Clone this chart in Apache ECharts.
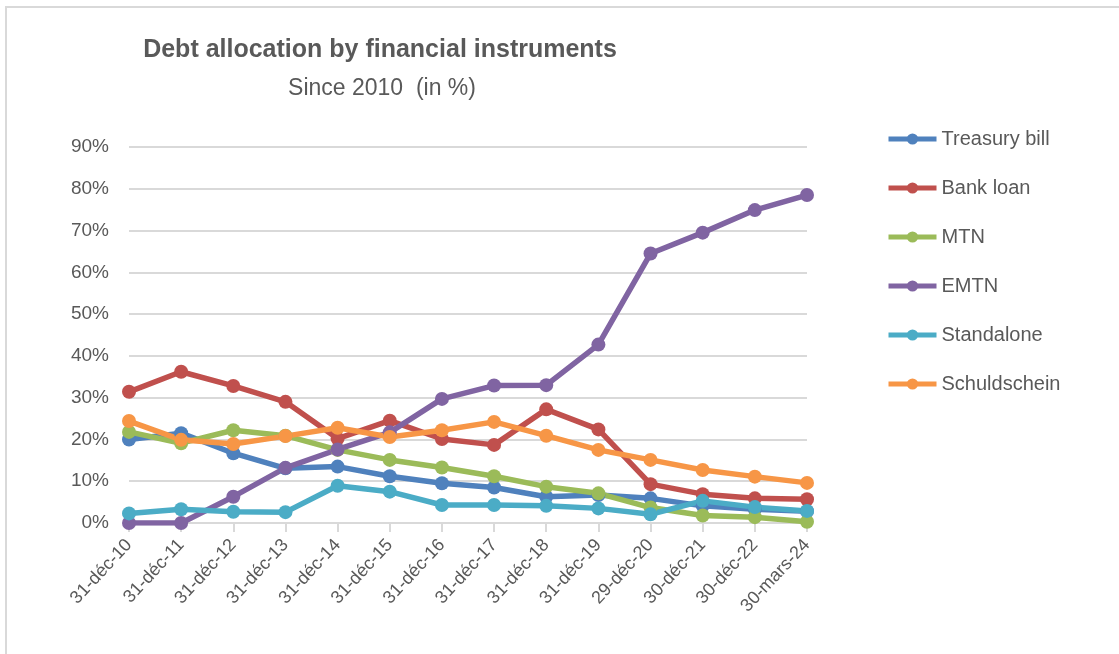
<!DOCTYPE html>
<html>
<head>
<meta charset="utf-8">
<script src="https://cdn.jsdelivr.net/npm/echarts@6/dist/echarts.min.js"></script>
<style>
  html, body { margin: 0; padding: 0; background: #ffffff; }
  #chart { width: 1119px; height: 654px; }
</style>
</head>
<body>
<div id="chart"></div>
<script>
// Reporting dates (category axis)
const dates = ['31-déc-10', '31-déc-11', '31-déc-12', '31-déc-13', '31-déc-14', '31-déc-15',
  '31-déc-16', '31-déc-17', '31-déc-18', '31-déc-19', '29-déc-20', '30-déc-21', '30-déc-22', '30-mars-24'];

// Share of total debt per instrument, in %
const treasuryBill = [20.0, 21.5, 16.7, 13.1, 13.5, 11.2, 9.5, 8.5, 6.3, 6.7, 5.9, 4.1, 3.3, 2.8];
const bankLoan     = [31.4, 36.2, 32.8, 29.0, 20.2, 24.5, 20.1, 18.7, 27.2, 22.4, 9.3, 6.9, 5.9, 5.7];
const mtn          = [21.8, 19.1, 22.2, 20.9, 17.5, 15.1, 13.3, 11.2, 8.7, 7.1, 3.7, 1.8, 1.4, 0.3];
const emtn         = [0.0, 0.0, 6.3, 13.2, 17.6, 21.7, 29.7, 32.9, 33.0, 42.7, 64.5, 69.5, 74.9, 78.5];
const standalone   = [2.3, 3.3, 2.7, 2.6, 8.9, 7.5, 4.3, 4.3, 4.1, 3.5, 2.1, 5.3, 3.8, 2.9];
const schuldschein = [24.4, 19.9, 18.9, 20.8, 22.8, 20.6, 22.2, 24.2, 20.9, 17.5, 15.1, 12.7, 11.1, 9.6];

// Value axis ticks
const yMin = 0, yMax = 90, yStep = 10;

const seriesDefs = [
  { name: 'Treasury bill', data: treasuryBill, color: '#4F81BD' },
  { name: 'Bank loan',     data: bankLoan,     color: '#C0504D' },
  { name: 'MTN',           data: mtn,          color: '#9BBB59' },
  { name: 'EMTN',          data: emtn,         color: '#8064A2' },
  { name: 'Standalone',    data: standalone,   color: '#4BACC6' },
  { name: 'Schuldschein',  data: schuldschein, color: '#F79646' }
];

const FONT = '"Liberation Sans", Arial, sans-serif';
const TEXT = '#595959';
const GRID = '#d9d9d9';

const chart = echarts.init(document.getElementById('chart'), null, { renderer: 'canvas' });

chart.setOption({
  backgroundColor: '#ffffff',
  animation: false,
  textStyle: { fontFamily: FONT, color: TEXT },
  graphic: [{
    type: 'rect',
    shape: { x: 6, y: 7, width: 1200, height: 700 },
    style: { fill: 'none', stroke: '#d9d9d9', lineWidth: 2 },
    silent: true
  }],
  title: [{
    text: 'Debt allocation by financial instruments',
    left: 375, top: 33, textAlign: 'center',
    textStyle: { fontFamily: FONT, fontSize: 25, fontWeight: 'bold', color: TEXT }
  }, {
    text: 'Since 2010  (in %)',
    left: 377, top: 72, textAlign: 'center',
    textStyle: { fontFamily: FONT, fontSize: 23, fontWeight: 'normal', color: TEXT }
  }],
  legend: {
    orient: 'vertical',
    left: 881, top: 124,
    itemWidth: 48, itemHeight: 14, itemGap: 29,
    lineStyle: { width: 5 },
    textStyle: { fontFamily: FONT, fontSize: 20, color: TEXT },
    data: seriesDefs.map(s => s.name)
  },
  grid: { left: 129, right: 312, top: 147, bottom: 131, containLabel: false },
  xAxis: {
    type: 'category',
    data: dates,
    boundaryGap: false,
    axisLine: { lineStyle: { color: GRID, width: 2 } },
    axisTick: { show: true, alignWithLabel: true, length: 9, lineStyle: { color: GRID, width: 2 } },
    axisLabel: { rotate: 47, interval: 0, fontSize: 18, color: TEXT, fontFamily: FONT, margin: 19 },
    splitLine: { show: false }
  },
  yAxis: {
    type: 'value',
    min: yMin, max: yMax, interval: yStep,
    axisLine: { show: false },
    axisTick: { show: false },
    axisLabel: { formatter: v => v + '%', fontSize: 19, color: TEXT, fontFamily: FONT, margin: 20 },
    splitLine: { lineStyle: { color: GRID, width: 2 } }
  },
  series: seriesDefs.map(s => ({
    name: s.name,
    type: 'line',
    data: s.data,
    symbol: 'circle',
    symbolSize: 14,
    lineStyle: { width: 5.5, color: s.color },
    itemStyle: { color: s.color },
    emphasis: { disabled: true }
  }))
});
</script>
</body>
</html>
